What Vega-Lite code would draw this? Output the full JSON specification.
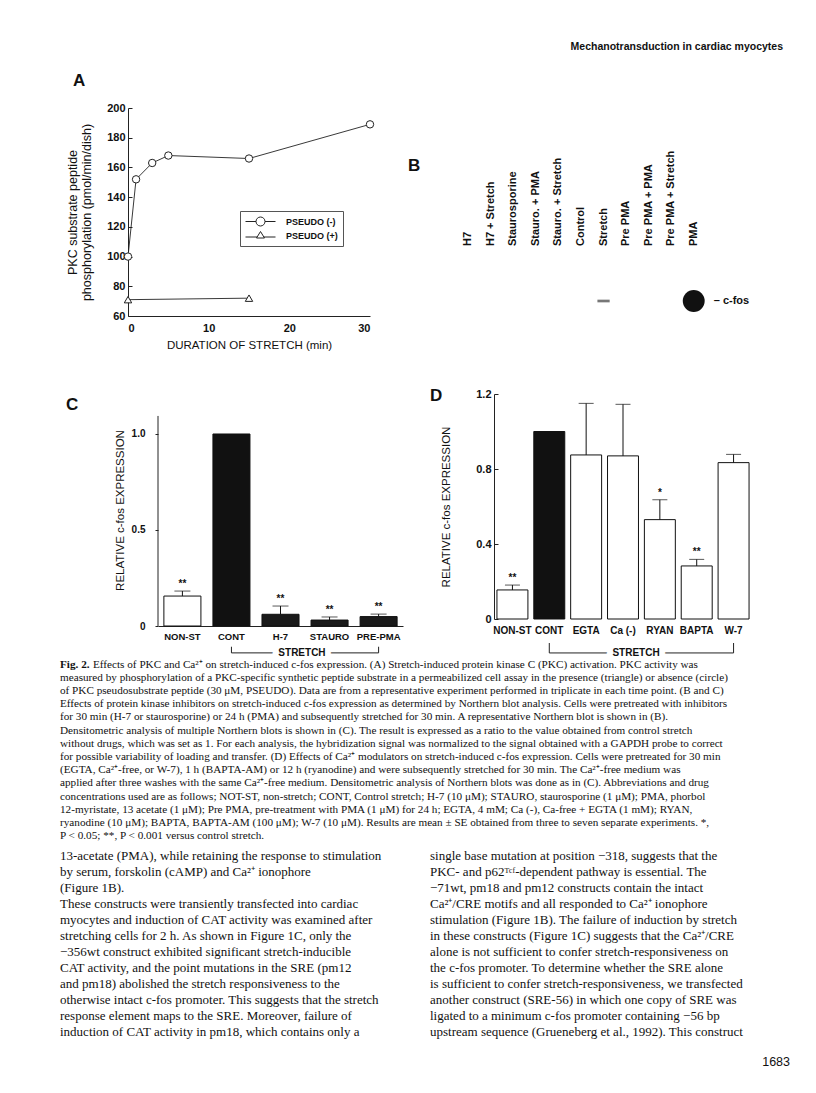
{
  "$schema": "https://vega.github.io/schema/vega-lite/v6.json",
  "background": "white",
  "padding": {"left": 60, "top": 40, "right": 10, "bottom": 5},
  "config": {
    "view": {"stroke": null},
    "font": "Liberation Sans",
    "axis": {"labelFont": "Liberation Sans", "titleFont": "Liberation Sans", "labelColor": "#111", "titleColor": "#111", "domainColor": "#222", "tickColor": "#222", "grid": false, "labelFontWeight": "bold", "titleFontWeight": "normal", "labelOverlap": false},
    "title": {"font": "Liberation Sans", "fontSize": 17, "fontWeight": "bold", "anchor": "start", "frame": "group", "color": "#111"},
    "legend": {"labelFont": "Liberation Sans"}
  },
  "spacing": 0,
  "bounds": "full",
  "resolve": {"scale": {"color": "independent", "shape": "independent", "size": "independent"}, "legend": {"color": "independent", "shape": "independent", "size": "independent"}},
  "vconcat": [
    {
      "width": 723, "height": 14,
      "data": {"values": [{"text": "Mechanotransduction in cardiac myocytes"}]},
      "mark": {"type": "text", "align": "right", "baseline": "middle", "fontSize": 10.5, "fontWeight": "bold", "color": "#111"},
      "encoding": {"text": {"field": "text"}, "x": {"value": "width"}}
    },
    {"width": 1, "height": 18, "data": {"values": []}, "mark": "point"},
    {
      "hconcat": [
        {"width": 68, "height": 208, "data": {"values": []}, "mark": "point"},
        {
          "width": 242, "height": 208,
          "title": {"text": "A", "dx": -55, "offset": 12},
          "data": {"values": [
            {"series": "PSEUDO (-)", "minutes": 0, "phos": 100},
            {"series": "PSEUDO (-)", "minutes": 1, "phos": 152},
            {"series": "PSEUDO (-)", "minutes": 3, "phos": 163},
            {"series": "PSEUDO (-)", "minutes": 5, "phos": 168},
            {"series": "PSEUDO (-)", "minutes": 15, "phos": 166},
            {"series": "PSEUDO (-)", "minutes": 30, "phos": 189},
            {"series": "PSEUDO (+)", "minutes": 0, "phos": 71},
            {"series": "PSEUDO (+)", "minutes": 15, "phos": 72}
          ]},
          "encoding": {
            "x": {"field": "minutes", "type": "quantitative", "scale": {"domain": [0, 30]},
                  "axis": {"values": [0, 10, 20, 30], "ticks": false, "labelPadding": 6, "labelFontSize": 11, "title": "DURATION OF STRETCH (min)", "titleFontSize": 11.5, "titlePadding": 6}},
            "y": {"field": "phos", "type": "quantitative", "scale": {"domain": [60, 200]},
                  "axis": {"values": [60, 80, 100, 120, 140, 160, 180, 200], "tickSize": -4, "labelPadding": 7, "labelFontSize": 11, "title": ["PKC substrate peptide", "phosphorylation (pmol/min/dish)"], "titleFontSize": 12.5, "titlePadding": 13}}
          },
          "layer": [
            {
              "mark": {"type": "line", "strokeWidth": 0.9},
              "encoding": {
                "color": {"field": "series", "type": "nominal",
                  "scale": {"domain": ["PSEUDO (-)", "PSEUDO (+)"], "range": ["#222222", "#222222"]},
                  "legend": {"orient": "none", "legendX": 112, "legendY": 103, "title": null, "labelFontSize": 9, "labelFontWeight": "bold", "labelColor": "#111", "symbolSize": 100, "symbolStrokeWidth": 1, "labelOffset": 30, "rowPadding": 0, "padding": 5, "strokeColor": "#555",
                    "encode": {"symbols": {"update": {
                      "shape": {"signal": "datum.value === 'PSEUDO (-)' ? 'M-1,0L1.1,0M2.9,0L5,0M1.1,0A0.9,0.9 0 1,0 2.9,0A0.9,0.9 0 1,0 1.1,0' : 'M-1,0.3L1.32,0.3M2.68,0.3L5,0.3M2,-0.8L2.8,0.5L1.2,0.5Z'"},
                      "fill": {"value": "white"}, "stroke": {"value": "#222"}, "strokeWidth": {"value": 1}}}}}
                }
              }
            },
            {
              "transform": [{"filter": "datum.series === 'PSEUDO (-)'"}],
              "mark": {"type": "point", "shape": "circle", "filled": true, "fill": "white", "stroke": "#222", "strokeWidth": 1, "size": 55, "opacity": 1}
            },
            {
              "transform": [{"filter": "datum.series === 'PSEUDO (+)'"}],
              "mark": {"type": "point", "shape": "triangle-up", "filled": true, "fill": "white", "stroke": "#222", "strokeWidth": 1, "size": 55, "opacity": 1}
            }
          ]
        },
        {"width": 87, "height": 208, "data": {"values": []}, "mark": "point"},
        {
          "width": 248, "height": 208,
          "title": {"text": "B", "dx": -49, "offset": -67},
          "layer": [
            {
              "data": {"values": [
                {"lane": "H7"}, {"lane": "H7 + Stretch"}, {"lane": "Staurosporine"}, {"lane": "Stauro. + PMA"},
                {"lane": "Stauro. + Stretch"}, {"lane": "Control"}, {"lane": "Stretch"}, {"lane": "Pre PMA"},
                {"lane": "Pre PMA + PMA"}, {"lane": "Pre PMA + Stretch"}, {"lane": "PMA"}
              ]},
              "mark": {"type": "text", "angle": 270, "align": "left", "baseline": "middle", "fontSize": 11, "fontWeight": "bold", "color": "#111"},
              "encoding": {
                "x": {"field": "lane", "type": "nominal", "sort": null,
                      "scale": {"type": "point", "padding": 0.5, "domain": ["H7", "H7 + Stretch", "Staurosporine", "Stauro. + PMA", "Stauro. + Stretch", "Control", "Stretch", "Pre PMA", "Pre PMA + PMA", "Pre PMA + Stretch", "PMA"]},
                      "axis": null},
                "y": {"datum": "lane labels", "type": "nominal", "scale": {"type": "point", "padding": 0, "domain": ["lane labels", "c-fos"], "range": [138, 193]}, "axis": null},
                "text": {"field": "lane"}
              }
            },
            {
              "data": {"values": [{"lane": "Stretch", "signal": "weak"}, {"lane": "PMA", "signal": "strong"}]},
              "mark": {"type": "point", "filled": true, "opacity": 1},
              "encoding": {
                "x": {"field": "lane", "type": "nominal"},
                "y": {"datum": "c-fos", "type": "nominal"},
                "shape": {"field": "signal", "type": "nominal", "scale": {"domain": ["weak", "strong"], "range": ["M-1,-0.22L1,-0.22L1,0.22L-1,0.22Z", "circle"]}, "legend": null},
                "size": {"field": "signal", "type": "nominal", "scale": {"domain": ["weak", "strong"], "range": [150, 480]}, "legend": null},
                "color": {"field": "signal", "type": "nominal", "scale": {"domain": ["weak", "strong"], "range": ["#777777", "#111111"]}, "legend": null}
              }
            },
            {
              "data": {"values": [{"lane": "PMA", "probe": "– c-fos"}]},
              "mark": {"type": "text", "align": "left", "baseline": "middle", "dx": 20, "fontSize": 11, "fontWeight": "bold", "color": "#111"},
              "encoding": {
                "x": {"field": "lane", "type": "nominal"},
                "y": {"datum": "c-fos", "type": "nominal"},
                "text": {"field": "probe"}
              }
            }
          ]
        }
      ],
      "spacing": 0, "bounds": "flush",
      "resolve": {"scale": {"color": "independent", "shape": "independent", "size": "independent"}, "legend": {"color": "independent", "shape": "independent", "size": "independent"}}
    },
    {"width": 1, "height": 36, "data": {"values": []}, "mark": "point"},
    {
      "hconcat": [
        {"width": 98, "height": 232, "data": {"values": []}, "mark": "point"},
        {
          "width": 245, "height": 232,
          "title": {"text": "C", "dx": -92, "offset": -20},
          "data": {"values": [
            {"treatment": "NON-ST", "group": "non-stretch", "mean": 0.156, "upper": 0.182, "sig": "**"},
            {"treatment": "CONT", "group": "control", "mean": 1.0, "upper": null, "sig": ""},
            {"treatment": "H-7", "group": "inhibitor", "mean": 0.061, "upper": 0.104, "sig": "**"},
            {"treatment": "STAURO", "group": "inhibitor", "mean": 0.031, "upper": 0.047, "sig": "**"},
            {"treatment": "PRE-PMA", "group": "inhibitor", "mean": 0.049, "upper": 0.062, "sig": "**"}
          ]},
          "encoding": {
            "x": {"field": "treatment", "type": "nominal", "sort": null, "scale": {"paddingInner": 0.245, "paddingOuter": 0.12},
                  "axis": {"title": null, "labelAngle": 0, "ticks": false, "labelPadding": 5, "labelFontSize": 9.5, "domain": true}}
          },
          "layer": [
            {
              "mark": {"type": "bar", "stroke": "#111", "strokeWidth": 1},
              "encoding": {
                "y": {"field": "mean", "type": "quantitative", "scale": {"domain": [0, 1.2083], "nice": false},
                      "axis": {"values": [0, 0.5, 1], "labelExpr": "datum.value === 0 ? '0' : format(datum.value, '.1f')", "title": "RELATIVE c-fos EXPRESSION", "titleFontSize": 11.5, "tickSize": 3, "labelPadding": 10, "labelFontSize": 10, "titlePadding": 6, "domain": false}},
                "color": {"field": "group", "type": "nominal", "scale": {"domain": ["non-stretch", "control", "inhibitor"], "range": ["#ffffff", "#111111", "#1a1a1a"]}, "legend": null}
              }
            },
            {
              "data": {"values": [{"axis": "y"}]},
              "mark": {"type": "rule", "color": "#222", "strokeWidth": 1},
              "encoding": {"x": {"value": 0}, "y": {"datum": 0, "type": "quantitative"}, "y2": {"datum": 1.094}}
            },
            {
              "transform": [{"filter": "datum.upper != null"}],
              "mark": {"type": "rule", "color": "#111", "strokeWidth": 1},
              "encoding": {"y": {"field": "mean", "type": "quantitative"}, "y2": {"field": "upper"}}
            },
            {
              "transform": [{"filter": "datum.upper != null"}],
              "mark": {"type": "tick", "orient": "horizontal", "color": "#111", "thickness": 1, "size": 16},
              "encoding": {"y": {"field": "upper", "type": "quantitative"}}
            },
            {
              "transform": [{"filter": "datum.sig != ''"}],
              "mark": {"type": "text", "baseline": "bottom", "dy": -2, "fontSize": 10, "fontWeight": "bold", "color": "#111"},
              "encoding": {"y": {"field": "upper", "type": "quantitative"}, "text": {"field": "sig"}}
            },
            {
              "data": {"values": [{"label": "STRETCH"}]},
              "mark": {"type": "rule", "color": "#222", "strokeWidth": 1},
              "encoding": {"x": {"datum": "CONT", "type": "nominal"}, "x2": {"datum": "PRE-PMA"}, "y": {"datum": -0.14, "type": "quantitative"}}
            },
            {
              "data": {"values": [{"treatment": "CONT"}, {"treatment": "PRE-PMA"}]},
              "mark": {"type": "rule", "color": "#222", "strokeWidth": 1},
              "encoding": {"y": {"datum": -0.14, "type": "quantitative"}, "y2": {"datum": -0.108}}
            },
            {
              "data": {"values": [{"label": "STRETCH"}]},
              "mark": {"type": "text", "fontSize": 10, "fontWeight": "bold", "baseline": "middle", "fill": "white", "stroke": "white", "strokeWidth": 12, "strokeJoin": "round"},
              "encoding": {"x": {"datum": "H-7", "type": "nominal", "bandPosition": 1.08}, "y": {"datum": -0.14, "type": "quantitative"}, "text": {"field": "label"}}
            },
            {
              "data": {"values": [{"label": "STRETCH"}]},
              "mark": {"type": "text", "fontSize": 10, "fontWeight": "bold", "baseline": "middle", "color": "#111"},
              "encoding": {"x": {"datum": "H-7", "type": "nominal", "bandPosition": 1.08}, "y": {"datum": -0.14, "type": "quantitative"}, "text": {"field": "label"}}
            }
          ]
        },
        {"width": 91, "height": 225, "data": {"values": []}, "mark": "point"},
        {
          "width": 258, "height": 225,
          "title": {"text": "D", "dx": -64, "offset": -17},
          "data": {"values": [
            {"treatment": "NON-ST", "group": "non-stretch", "mean": 0.155, "upper": 0.181, "sig": "**"},
            {"treatment": "CONT", "group": "control", "mean": 1.0, "upper": null, "sig": ""},
            {"treatment": "EGTA", "group": "modulator", "mean": 0.875, "upper": 1.15, "sig": ""},
            {"treatment": "Ca (-)", "group": "modulator", "mean": 0.87, "upper": 1.145, "sig": ""},
            {"treatment": "RYAN", "group": "modulator", "mean": 0.53, "upper": 0.636, "sig": "*"},
            {"treatment": "BAPTA", "group": "modulator", "mean": 0.283, "upper": 0.318, "sig": "**"},
            {"treatment": "W-7", "group": "modulator", "mean": 0.834, "upper": 0.878, "sig": ""}
          ]},
          "encoding": {
            "x": {"field": "treatment", "type": "nominal", "sort": null, "scale": {"paddingInner": 0.16, "paddingOuter": 0.08},
                  "axis": {"title": null, "labelAngle": 0, "ticks": false, "labelPadding": 6, "labelFontSize": 10, "domain": false}}
          },
          "layer": [
            {
              "mark": {"type": "bar", "stroke": "#111", "strokeWidth": 1},
              "encoding": {
                "y": {"field": "mean", "type": "quantitative", "scale": {"domain": [0, 1.2], "nice": false},
                      "axis": {"values": [0, 0.2, 0.4, 0.6, 0.8, 1.0, 1.2], "labelExpr": "datum.value === 0 ? '0' : format(datum.value, '.1f')", "title": "RELATIVE c-fos EXPRESSION", "titleFontSize": 11.5, "tickSize": -4, "labelPadding": 7, "labelFontSize": 11, "titlePadding": 24}},
                "color": {"field": "group", "type": "nominal", "scale": {"domain": ["non-stretch", "control", "modulator"], "range": ["#ffffff", "#111111", "#ffffff"]}, "legend": null}
              }
            },
            {
              "transform": [{"filter": "datum.upper != null"}],
              "mark": {"type": "rule", "color": "#111", "strokeWidth": 1},
              "encoding": {"y": {"field": "mean", "type": "quantitative"}, "y2": {"field": "upper"}}
            },
            {
              "transform": [{"filter": "datum.upper != null"}],
              "mark": {"type": "tick", "orient": "horizontal", "color": "#111", "thickness": 1, "size": 15},
              "encoding": {"y": {"field": "upper", "type": "quantitative"}}
            },
            {
              "transform": [{"filter": "datum.sig != ''"}],
              "mark": {"type": "text", "baseline": "bottom", "dy": -2, "fontSize": 10, "fontWeight": "bold", "color": "#111"},
              "encoding": {"y": {"field": "upper", "type": "quantitative"}, "text": {"field": "sig"}}
            },
            {
              "data": {"values": [{"label": "STRETCH"}]},
              "mark": {"type": "rule", "color": "#222", "strokeWidth": 1},
              "encoding": {"x": {"datum": "CONT", "type": "nominal"}, "x2": {"datum": "W-7"}, "y": {"datum": -0.181, "type": "quantitative"}}
            },
            {
              "data": {"values": [{"treatment": "CONT"}, {"treatment": "W-7"}]},
              "mark": {"type": "rule", "color": "#222", "strokeWidth": 1},
              "encoding": {"y": {"datum": -0.181, "type": "quantitative"}, "y2": {"datum": -0.128}}
            },
            {
              "data": {"values": [{"label": "STRETCH"}]},
              "mark": {"type": "text", "fontSize": 10, "fontWeight": "bold", "baseline": "middle", "fill": "white", "stroke": "white", "strokeWidth": 12, "strokeJoin": "round"},
              "encoding": {"x": {"datum": "Ca (-)", "type": "nominal", "bandPosition": 0.92}, "y": {"datum": -0.181, "type": "quantitative"}, "text": {"field": "label"}}
            },
            {
              "data": {"values": [{"label": "STRETCH"}]},
              "mark": {"type": "text", "fontSize": 10, "fontWeight": "bold", "baseline": "middle", "color": "#111"},
              "encoding": {"x": {"datum": "Ca (-)", "type": "nominal", "bandPosition": 0.92}, "y": {"datum": -0.181, "type": "quantitative"}, "text": {"field": "label"}}
            }
          ]
        }
      ],
      "spacing": 0, "bounds": "flush",
      "resolve": {"scale": {"color": "independent", "shape": "independent", "size": "independent"}, "legend": {"color": "independent", "shape": "independent", "size": "independent"}}
    },
    {
      "width": 735, "height": 184.8,
      "data": {"values": [
        {"line": 1, "lead": "Fig. 2.", "text": "Effects of PKC and Ca²⁺ on stretch-induced c-fos expression. (A) Stretch-induced protein kinase C (PKC) activation. PKC activity was"},
        {"line": 2, "text": "measured by phosphorylation of a PKC-specific synthetic peptide substrate in a permeabilized cell assay in the presence (triangle) or absence (circle)"},
        {"line": 3, "text": "of PKC pseudosubstrate peptide (30 μM, PSEUDO). Data are from a representative experiment performed in triplicate in each time point. (B and C)"},
        {"line": 4, "text": "Effects of protein kinase inhibitors on stretch-induced c-fos expression as determined by Northern blot analysis. Cells were pretreated with inhibitors"},
        {"line": 5, "text": "for 30 min (H-7 or staurosporine) or 24 h (PMA) and subsequently stretched for 30 min. A representative Northern blot is shown in (B)."},
        {"line": 6, "text": "Densitometric analysis of multiple Northern blots is shown in (C). The result is expressed as a ratio to the value obtained from control stretch"},
        {"line": 7, "text": "without drugs, which was set as 1. For each analysis, the hybridization signal was normalized to the signal obtained with a GAPDH probe to correct"},
        {"line": 8, "text": "for possible variability of loading and transfer. (D) Effects of Ca²⁺ modulators on stretch-induced c-fos expression. Cells were pretreated for 30 min"},
        {"line": 9, "text": "(EGTA, Ca²⁺-free, or W-7), 1 h (BAPTA-AM) or 12 h (ryanodine) and were subsequently stretched for 30 min. The Ca²⁺-free medium was"},
        {"line": 10, "text": "applied after three washes with the same Ca²⁺-free medium. Densitometric analysis of Northern blots was done as in (C). Abbreviations and drug"},
        {"line": 11, "text": "concentrations used are as follows; NOT-ST, non-stretch; CONT, Control stretch; H-7 (10 μM); STAURO, staurosporine (1 μM); PMA, phorbol"},
        {"line": 12, "text": "12-myristate, 13 acetate (1 μM); Pre PMA, pre-treatment with PMA (1 μM) for 24 h; EGTA, 4 mM; Ca (-), Ca-free + EGTA (1 mM); RYAN,"},
        {"line": 13, "text": "ryanodine (10 μM); BAPTA, BAPTA-AM (100 μM); W-7 (10 μM). Results are mean ± SE obtained from three to seven separate experiments. *,"},
        {"line": 14, "text": "P < 0.05; **, P < 0.001 versus control stretch."}
      ]},
      "encoding": {
        "y": {"field": "line", "type": "ordinal", "scale": {"type": "point", "padding": 0.5}, "axis": null},
        "x": {"value": 0}
      },
      "layer": [
        {
          "transform": [{"filter": "datum.line !== 1"}],
          "mark": {"type": "text", "align": "left", "baseline": "middle", "font": "Liberation Serif", "fontSize": 11.2, "color": "#111"},
          "encoding": {"text": {"field": "text"}}
        },
        {
          "transform": [{"filter": "datum.line === 1"}],
          "mark": {"type": "text", "align": "left", "baseline": "middle", "dx": 33, "font": "Liberation Serif", "fontSize": 11.2, "color": "#111"},
          "encoding": {"text": {"field": "text"}}
        },
        {
          "transform": [{"filter": "datum.line === 1"}],
          "mark": {"type": "text", "align": "left", "baseline": "middle", "font": "Liberation Serif", "fontSize": 11.2, "fontWeight": "bold", "color": "#111"},
          "encoding": {"text": {"field": "lead"}}
        }
      ]
    },
    {"width": 1, "height": 4.2, "data": {"values": []}, "mark": "point"},
    {
      "hconcat": [
        {
          "width": 348, "height": 192,
          "data": {"values": [
            {"line": 1, "text": "13-acetate (PMA), while retaining the response to stimulation"},
            {"line": 2, "text": "by serum, forskolin (cAMP) and Ca²⁺ ionophore"},
            {"line": 3, "text": "(Figure 1B)."},
            {"line": 4, "text": "\u00a0\u00a0These constructs were transiently transfected into cardiac"},
            {"line": 5, "text": "myocytes and induction of CAT activity was examined after"},
            {"line": 6, "text": "stretching cells for 2 h. As shown in Figure 1C, only the"},
            {"line": 7, "text": "−356wt construct exhibited significant stretch-inducible"},
            {"line": 8, "text": "CAT activity, and the point mutations in the SRE (pm12"},
            {"line": 9, "text": "and pm18) abolished the stretch responsiveness to the"},
            {"line": 10, "text": "otherwise intact c-fos promoter. This suggests that the stretch"},
            {"line": 11, "text": "response element maps to the SRE. Moreover, failure of"},
            {"line": 12, "text": "induction of CAT activity in pm18, which contains only a"}
          ]},
          "mark": {"type": "text", "align": "left", "baseline": "middle", "font": "Liberation Serif", "fontSize": 13, "color": "#111"},
          "encoding": {
            "y": {"field": "line", "type": "ordinal", "scale": {"type": "point", "padding": 0.5}, "axis": null},
            "x": {"value": 0},
            "text": {"field": "text"}
          }
        },
        {"width": 22, "height": 192, "data": {"values": []}, "mark": "point"},
        {
          "width": 365, "height": 192,
          "data": {"values": [
            {"line": 1, "text": "single base mutation at position −318, suggests that the"},
            {"line": 2, "text": "PKC- and p62ᵀᶜᶠ-dependent pathway is essential. The"},
            {"line": 3, "text": "−71wt, pm18 and pm12 constructs contain the intact"},
            {"line": 4, "text": "Ca²⁺/CRE motifs and all responded to Ca²⁺ ionophore"},
            {"line": 5, "text": "stimulation (Figure 1B). The failure of induction by stretch"},
            {"line": 6, "text": "in these constructs (Figure 1C) suggests that the Ca²⁺/CRE"},
            {"line": 7, "text": "alone is not sufficient to confer stretch-responsiveness on"},
            {"line": 8, "text": "the c-fos promoter. To determine whether the SRE alone"},
            {"line": 9, "text": "is sufficient to confer stretch-responsiveness, we transfected"},
            {"line": 10, "text": "another construct (SRE-56) in which one copy of SRE was"},
            {"line": 11, "text": "ligated to a minimum c-fos promoter containing −56 bp"},
            {"line": 12, "text": "upstream sequence (Grueneberg et al., 1992). This construct"}
          ]},
          "mark": {"type": "text", "align": "left", "baseline": "middle", "font": "Liberation Serif", "fontSize": 13, "color": "#111"},
          "encoding": {
            "y": {"field": "line", "type": "ordinal", "scale": {"type": "point", "padding": 0.5}, "axis": null},
            "x": {"value": 0},
            "text": {"field": "text"}
          }
        }
      ],
      "spacing": 0, "bounds": "flush"
    },
    {
      "width": 730, "height": 44,
      "data": {"values": [{"page": "1683"}]},
      "mark": {"type": "text", "align": "right", "baseline": "middle", "fontSize": 12.5, "color": "#111"},
      "encoding": {"text": {"field": "page"}, "x": {"value": "width"}}
    }
  ]
}
